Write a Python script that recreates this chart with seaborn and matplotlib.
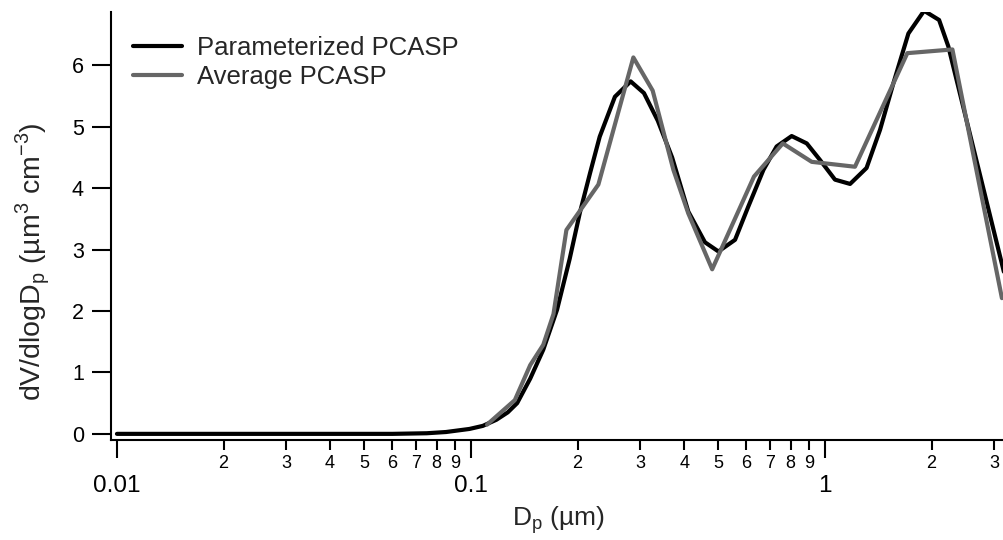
import numpy as np
import pandas as pd
import matplotlib
matplotlib.use('Agg')
import matplotlib.pyplot as plt
import matplotlib.ticker as mticker
import seaborn as sns

# values
param_dp = [0.01, 0.02, 0.04, 0.06, 0.075, 0.085, 0.099, 0.108, 0.118, 0.127,
            0.135, 0.147, 0.16, 0.175, 0.19, 0.203, 0.217, 0.231, 0.255, 0.2825,
            0.308, 0.337, 0.37, 0.411, 0.458, 0.5, 0.557, 0.607, 0.67, 0.73,
            0.805, 0.888, 0.968, 1.067, 1.177, 1.31, 1.43, 1.56, 1.72, 1.905,
            2.10, 2.23, 3.2]
param_dv = [0.0, 0.0, 0.0, 0.0, 0.01, 0.03, 0.08, 0.13, 0.23, 0.35,
            0.5, 0.9, 1.37, 2.02, 2.85, 3.6, 4.25, 4.84, 5.49, 5.74,
            5.55, 5.1, 4.5, 3.62, 3.12, 2.97, 3.16, 3.70, 4.30, 4.68,
            4.85, 4.73, 4.46, 4.14, 4.07, 4.33, 4.95, 5.71, 6.52, 6.89,
            6.74, 6.31, 2.64]

avg_dp = [0.111, 0.133, 0.147, 0.16, 0.171, 0.186, 0.229, 0.2875, 0.326, 0.373,
          0.411, 0.48, 0.63, 0.76, 0.917, 1.215, 1.708, 2.29, 3.16]
avg_dv = [0.15, 0.55, 1.12, 1.45, 1.95, 3.32, 4.06, 6.13, 5.59, 4.30,
          3.59, 2.68, 4.19, 4.73, 4.43, 4.35, 6.20, 6.26, 2.21]

series_names = ['Parameterized PCASP', 'Average PCASP']

df = pd.concat([
    pd.DataFrame({'Dp': param_dp, 'dV': param_dv, 'series': series_names[0]}),
    pd.DataFrame({'Dp': avg_dp, 'dV': avg_dv, 'series': series_names[1]}),
])

sns.set_style('white')
plt.rcParams['font.family'] = ['Liberation Sans', 'DejaVu Sans']

fig = plt.figure(figsize=(10.04, 5.4), dpi=100)
ax = fig.add_axes([111 / 1004, 100 / 540, 893 / 1004, 428 / 540])

sns.lineplot(data=df, x='Dp', y='dV', hue='series', hue_order=series_names,
             palette={series_names[0]: 'black', series_names[1]: '#666666'},
             sort=False, estimator=None, linewidth=3, ax=ax, legend=True)

ax.set_xscale('log')
ax.set_xlim(0.00962, 3.203)
ax.set_ylim(-0.1, 6.87)

ax.xaxis.set_major_locator(mticker.FixedLocator([0.01, 0.1, 1]))
ax.xaxis.set_major_formatter(mticker.FixedFormatter(['0.01', '0.1', '1']))
ax.xaxis.set_minor_locator(mticker.LogLocator(base=10, subs=np.arange(2, 10), numticks=20))
ax.xaxis.set_minor_formatter(mticker.FuncFormatter(lambda v, p: '%d' % round(v / 10 ** np.floor(np.log10(v) + 1e-9))))
ax.set_yticks(range(0, 7))

for s in ['top', 'right']:
    ax.spines[s].set_visible(False)
for s in ['left', 'bottom']:
    ax.spines[s].set_linewidth(1.5)
    ax.spines[s].set_color('black')

ax.tick_params(axis='y', which='major', direction='out', length=13.5, width=1.5,
               labelsize=15.5, pad=6, left=True, colors='black')
ax.tick_params(axis='x', which='major', direction='out', length=13, width=1.5,
               labelsize=17.5, pad=12, bottom=True, colors='black')
ax.tick_params(axis='x', which='minor', direction='out', length=7, width=1.5,
               labelsize=13, pad=4, bottom=True, colors='black')

ax.set_xlabel(r'D$_\mathregular{p}$ (µm)', fontsize=19)
ax.xaxis.set_label_coords((558 - 111) / 893, -(504 - 440) / 428)
ax.set_ylabel(r'dV/dlogD$_\mathregular{p}$ (µm$^\mathregular{3}$ cm$^\mathregular{-3}$)', fontsize=20.5)
ax.yaxis.set_label_coords(-(111 - 52) / 893, (440 - 262) / 428)

ax.legend(loc='upper left', bbox_to_anchor=(133 / 1004, 1 - 36 / 540),
          bbox_transform=fig.transFigure, frameon=False, fontsize=18.5,
          handlelength=1.9, handletextpad=0.6, labelspacing=0.2,
          borderpad=0, borderaxespad=0)

fig.savefig('out.png', dpi=100)
